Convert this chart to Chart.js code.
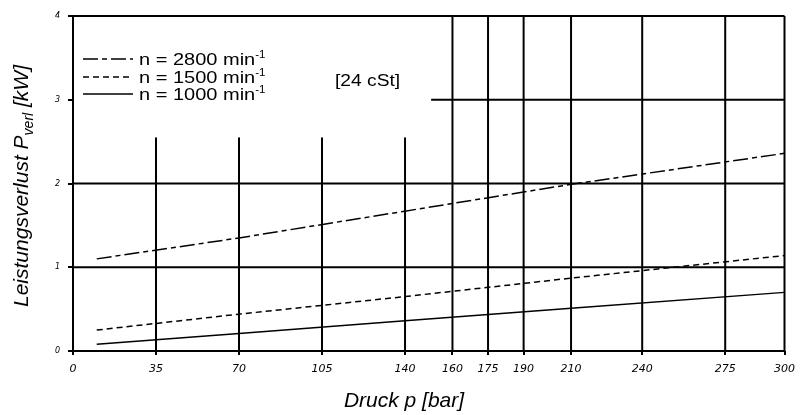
<!DOCTYPE html>
<html>
<head>
<meta charset="utf-8">
<script src="https://cdn.jsdelivr.net/npm/chart.js@4.4.1/dist/chart.umd.min.js"></script>
<style>
  body { margin: 0; background: #fff; }
  #wrap { width: 803px; height: 415px; }
</style>
</head>
<body>
<div id="wrap"><canvas id="c" width="803" height="415"></canvas></div>
<script>
/* Daten */
const druck = [10, 70, 140, 210, 300];
const n2800 = [1.10, 1.35, 1.67, 1.99, 2.36];
const n1500 = [0.25, 0.44, 0.65, 0.87, 1.14];
const n1000 = [0.08, 0.21, 0.36, 0.51, 0.70];

const xTicks = [0, 35, 70, 105, 140, 160, 175, 190, 210, 240, 275, 300];
const yTicks = [0, 1, 2, 3, 4];

const legendLabels = ["n = 2800 min", "n = 1500 min", "n = 1000 min"];

/* Gitter wie im Original */
const kurzeLinien = [35, 70, 105, 140];
const langeLinien = [160, 175, 190, 210, 240, 275, 300];
const kurzHoehe = 2.55;
const linie3Start = 151;

const schrift = "'Liberation Sans', Arial, sans-serif";

function punkte(werte) {
    return druck.map((p, i) => ({ x: p, y: werte[i] }));
}

// Text etwas in die Breite gezogen, wie im Original
function breitText(ctx, txt, x, y, sx) {
    ctx.save();
    ctx.translate(x, y);
    ctx.scale(sx, 1);
    ctx.fillText(txt, 0, 0);
    const w = ctx.measureText(txt).width * sx;
    ctx.restore();
    return w;
}

const gitter = {
    id: "gitter",
    beforeDatasetsDraw(chart) {
        const x = chart.scales.x, y = chart.scales.y, ctx = chart.ctx;
        ctx.save();
        ctx.strokeStyle = "#000";
        ctx.lineWidth = 2;
        ctx.lineCap = "butt";
        function seg(x1, y1, x2, y2) {
            ctx.beginPath();
            ctx.moveTo(x.getPixelForValue(x1), y.getPixelForValue(y1));
            ctx.lineTo(x.getPixelForValue(x2), y.getPixelForValue(y2));
            ctx.stroke();
        }
        seg(0, 0, 300, 0);
        seg(0, 1, 300, 1);
        seg(0, 2, 300, 2);
        seg(linie3Start, 3, 300, 3);
        seg(0, 4, 300, 4);
        seg(0, 0, 0, 4);
        kurzeLinien.forEach(v => seg(v, 0, v, kurzHoehe));
        langeLinien.forEach(v => seg(v, 0, v, 4));
        ctx.restore();
    },
    afterDraw(chart) {
        const ctx = chart.ctx;
        ctx.save();
        ctx.fillStyle = "#000";
        ctx.strokeStyle = "#000";
        ctx.textBaseline = "alphabetic";
        ctx.textAlign = "left";
        // Legende
        const zeilen = [59, 77, 94];
        chart.data.datasets.forEach((ds, i) => {
            const yy = zeilen[i];
            ctx.lineWidth = 1.5;
            ctx.setLineDash(ds.borderDash || []);
            ctx.beginPath();
            ctx.moveTo(83, yy);
            ctx.lineTo(133, yy);
            ctx.stroke();
            ctx.setLineDash([]);
            ctx.font = "16px " + schrift;
            const w = breitText(ctx, legendLabels[i], 139, yy + 6, 1.25);
            ctx.font = "10px " + schrift;
            breitText(ctx, "-1", 139 + w, yy - 1, 1.15);
        });
        ctx.font = "16px " + schrift;
        breitText(ctx, "[24 cSt]", 335, 86, 1.2);

        // Achsentitel
        ctx.font = "italic 21px " + schrift;
        ctx.textAlign = "center";
        ctx.fillText("Druck p [bar]", 404, 407);

        ctx.translate(28, 186);
        ctx.rotate(-Math.PI / 2);
        const t1 = "Leistungsverlust P";
        const t2 = "verl";
        const t3 = " [kW]";
        ctx.font = "italic 21px " + schrift;
        const w1 = ctx.measureText(t1).width;
        const w3 = ctx.measureText(t3).width;
        ctx.font = "italic 14px " + schrift;
        const w2 = ctx.measureText(t2).width;
        const sx = -(w1 + w2 + w3) / 2;
        ctx.textAlign = "left";
        ctx.font = "italic 21px " + schrift;
        ctx.fillText(t1, sx, 0);
        ctx.font = "italic 14px " + schrift;
        ctx.fillText(t2, sx + w1, 5);
        ctx.font = "italic 21px " + schrift;
        ctx.fillText(t3, sx + w1 + w2, 0);
        ctx.restore();
    }
};

new Chart(document.getElementById("c"), {
    type: "line",
    data: {
        datasets: [
            { label: legendLabels[0], data: punkte(n2800), borderColor: "#000", borderWidth: 1.5, borderDash: [15, 4, 5, 4], pointRadius: 0, fill: false },
            { label: legendLabels[1], data: punkte(n1500), borderColor: "#000", borderWidth: 1.5, borderDash: [6, 4], pointRadius: 0, fill: false },
            { label: legendLabels[2], data: punkte(n1000), borderColor: "#000", borderWidth: 1.5, pointRadius: 0, fill: false }
        ]
    },
    options: {
        responsive: false,
        animation: false,
        layout: { padding: { top: 16, right: 18, left: 0, bottom: 0 } },
        plugins: { legend: { display: false }, tooltip: { enabled: false } },
        scales: {
            x: {
                type: "linear",
                min: 0,
                max: 300,
                afterBuildTicks: (s) => { s.ticks = xTicks.map(v => ({ value: v })); },
                afterFit: (s) => { s.height = 64; },
                grid: { drawOnChartArea: false, drawTicks: true, tickLength: 4, color: "#000", lineWidth: 2 },
                border: { display: false },
                ticks: {
                    autoSkip: false,
                    maxRotation: 0,
                    padding: 8,
                    color: "#000",
                    font: { family: "'DejaVu Sans', sans-serif", size: 11, style: "italic" }
                }
            },
            y: {
                min: 0,
                max: 4,
                afterBuildTicks: (s) => { s.ticks = yTicks.map(v => ({ value: v })); },
                afterFit: (s) => { s.width = 73; },
                grid: { drawOnChartArea: false, drawTicks: true, tickLength: 5, color: "#000", lineWidth: 2 },
                border: { display: false },
                ticks: {
                    padding: 8,
                    color: "#000",
                    font: { family: "'DejaVu Sans', sans-serif", size: 8, style: "italic" }
                }
            }
        }
    },
    plugins: [gitter]
});
</script>
</body>
</html>
